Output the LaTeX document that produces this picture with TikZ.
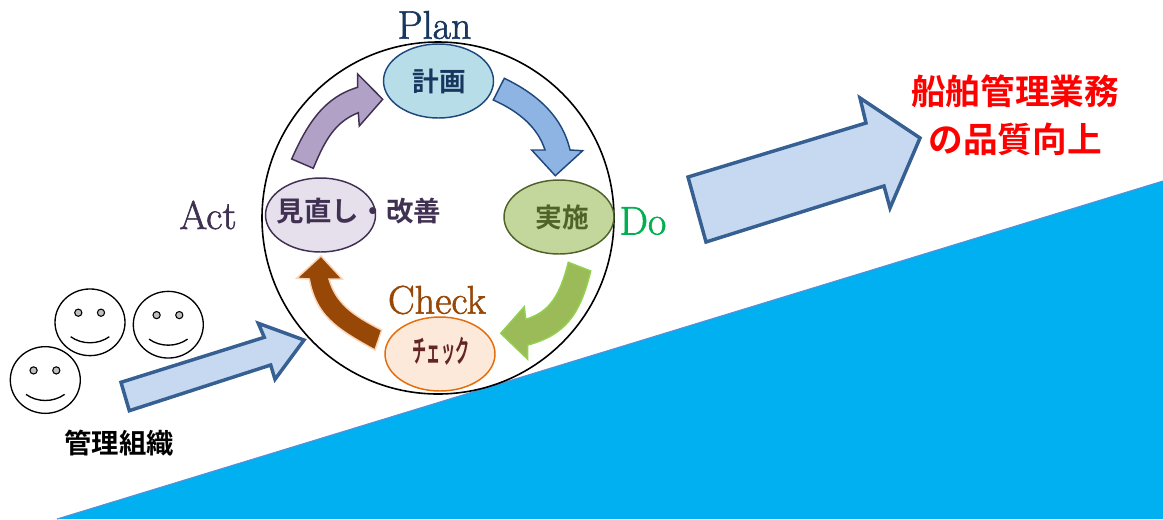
\documentclass[tikz,border=0pt]{standalone}
\usepackage{fontspec}
\usepackage{graphicx}
\usetikzlibrary{shapes.geometric}
\newfontfamily\jpfont{Noto Sans CJK JP Bold}[BoldFont={Noto Sans CJK JP Bold}]
\newfontfamily\latinfont{Latin Modern Roman}[FakeBold=1.5]
\definecolor{skyfill}{HTML}{00B0F0}
\definecolor{skyedge}{HTML}{5B8FD6}
\definecolor{bigfill}{HTML}{C6D9F1}
\definecolor{bigedge}{HTML}{376092}
\definecolor{navy}{HTML}{17375E}
\definecolor{planfill}{HTML}{B7DEE8}
\definecolor{planedge}{HTML}{1F497D}
\definecolor{dofill}{HTML}{C3D69B}
\definecolor{doedge}{HTML}{4F6228}
\definecolor{checkfill}{HTML}{FDE9D9}
\definecolor{checkedge}{HTML}{E46C0A}
\definecolor{actfill}{HTML}{E6E0EC}
\definecolor{actedge}{HTML}{403152}
\definecolor{purplefill}{HTML}{B2A1C7}
\definecolor{bluefill}{HTML}{8EB4E3}
\definecolor{greenfill}{HTML}{9BBB59}
\definecolor{greenedge}{HTML}{92D050}
\definecolor{brownfill}{HTML}{974706}
\definecolor{brownedge}{HTML}{FAD3B4}
\definecolor{checktext}{HTML}{632523}
\definecolor{dogreen}{HTML}{00B050}
\definecolor{eyegray}{HTML}{BFBFBF}
\tikzset{
  x=0.75pt,y=-0.75pt,
  phase/.style={draw,shape=ellipse,minimum width=82.5pt,minimum height=55.5pt,inner sep=0pt,line width=1.1pt},
  bigarrow/.style={draw=bigedge,fill=bigfill,line width=2.6pt,line join=miter},
  cyclearrow/.style={line width=1.1pt,line join=miter},
  jp/.style={font=\jpfont\fontsize{20pt}{22pt}\selectfont,inner sep=0pt},
  latin/.style={font=\latinfont\fontsize{30pt}{32pt}\selectfont,inner sep=0pt},
  headline/.style={font=\jpfont\fontsize{26pt}{28pt}\selectfont,text=red,inner sep=0pt},
  smiley/.pic={
    \node[draw=black,shape=ellipse,minimum width=52.5pt,minimum height=50pt,inner sep=0pt,line width=1pt] at (0,0) {};
    \draw[fill=eyegray,line width=.8pt] (-11.7,-9.6) circle[radius=3.6];
    \draw[fill=eyegray,line width=.8pt] (11,-9.6) circle[radius=3.6];
    \draw[line width=1pt] (-19.3,14.4) .. controls (-8,22.5) and (8,22.5) .. (19.3,14.4);
  }
}
\begin{document}
\begin{tikzpicture}
\useasboundingbox (0,0) rectangle (1163,519);
% slope
\fill[skyfill] (57,519) -- (1163,181) -- (1163,519) -- cycle;
\draw[skyedge,line width=.8pt] (57,519) -- (1163,181);
% cycle circle
\node[draw=black,shape=circle,minimum size=264pt,inner sep=0pt,line width=1.2pt] (ring) at (438,218) {};
% cycle arrows
\draw[cyclearrow,draw=actedge,fill=purplefill]
  (291.7,159) .. controls (308,122) and (325,97) .. (357.7,87.3)
  -- (357.7,74) -- (382.7,99.3) -- (359.3,126) -- (358.3,112.7)
  .. controls (335,122) and (325,140) .. (313.3,168.3) -- cycle;
\draw[cyclearrow,draw=planedge,fill=bluefill]
  (504.3,78.3) .. controls (535,93) and (562,115) .. (570,150)
  -- (582.7,150.7) -- (555.3,175.7) -- (531.7,150) -- (545,150)
  .. controls (538,128) and (520,112) .. (493.3,100) -- cycle;
\draw[cyclearrow,draw=greenedge,fill=greenfill]
  (590.7,271) .. controls (580,315) and (565,335) .. (527.7,345)
  -- (527.7,359.3) -- (500.7,333.3) -- (524.3,306.7) -- (525.7,319.3)
  .. controls (550,312) and (560,295) .. (568.3,262.3) -- cycle;
\draw[cyclearrow,draw=brownedge,fill=brownfill]
  (375,350) .. controls (335,328) and (316,315) .. (309.3,279)
  -- (296.7,278.3) -- (321,256) -- (342.3,279) -- (329,279)
  .. controls (336,303) and (352,315) .. (381.7,330) -- cycle;
% phases
\node[phase,draw=planedge,fill=planfill] (plan) at (438.5,81) {};
\node[phase,draw=doedge,fill=dofill] (do) at (559,217) {};
\node[phase,draw=checkedge,fill=checkfill] (check) at (440,354) {};
\node[phase,draw=actedge,fill=actfill] (act) at (320.5,215) {};
\node[jp,text=navy] (plantext) at (439,81) {計画};
\node[jp,text=doedge] (dotext) at (562,217) {実施};
\node[jp,text=checktext] (checktext) at (441,351) {\fontsize{23pt}{25pt}\selectfont\scalebox{0.46}[1]{チェック}};
\node[jp,text=actedge,font=\jpfont\fontsize{20.6pt}{22pt}\selectfont] (acttext) at (359,211) {見直し・改善};
% phase labels
\node[latin,text=navy] (planlabel) at (434.5,25) {Plan};
\node[latin,text=actedge] (actlabel) at (208,215) {Act};
\node[latin,text=dogreen] (dolabel) at (643,221) {Do};
\node[latin,text=brownfill] (checklabel) at (437,300) {Check};
% inflow and outcome arrows
\draw[bigarrow] (121,382.3) -- (264.3,337.3) -- (258.3,323.3) -- (304,340) -- (275,379.3) -- (270.7,365) -- (129.3,410.7) -- cycle;
\draw[bigarrow] (688,177) -- (866,123) -- (860,98) -- (920,138) -- (890,208) -- (884,186) -- (706,242) -- cycle;
% faces
\pic at (90,322.3) {smiley};
\pic at (168.3,324.7) {smiley};
\pic at (45.3,380) {smiley};
\node[jp,text=black,font=\jpfont\fontsize{20.5pt}{22pt}\selectfont] (org) at (119,443) {管理組織};
\node[headline] (title1) at (1015,91) {船舶管理業務};
\node[headline] (title2) at (1015,139) {の品質向上};
\end{tikzpicture}
\end{document}
